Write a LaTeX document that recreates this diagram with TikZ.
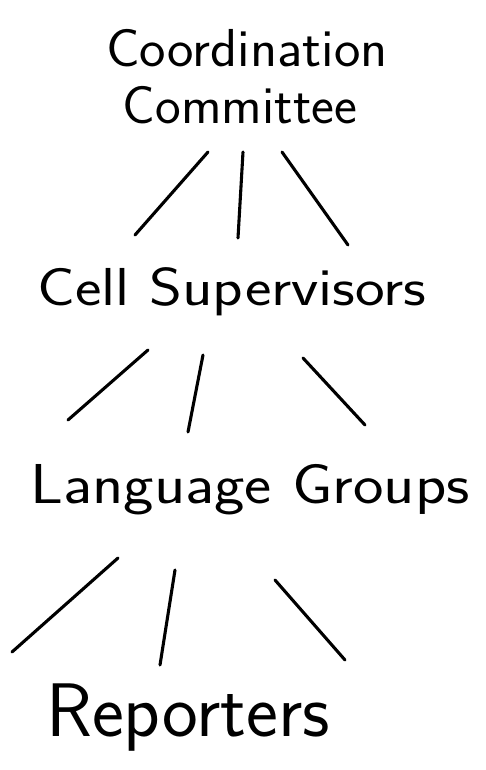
\documentclass[tikz,border=0pt]{standalone}
\usepackage{tikz}
\usepackage{graphicx}
\usetikzlibrary{positioning,calc}

\newcommand{\hand}[3]{\fontsize{#1}{#1}\selectfont\scalebox{#2}[1]{#3}}

\tikzset{
  level/.style={font=\sffamily, inner sep=0pt},
  branch/.style={line width=2.2pt, line cap=round}
}

\begin{document}
\begin{tikzpicture}[x=0.025cm, y=-0.025cm, line cap=round, line join=round]
  \useasboundingbox (0,0) rectangle (486,770);

  % levels
  \node[level] (coord)  at (247,48)  {\hand{38}{1.05}{Coordination}};
  \node[level] (comm)   at (240,105) {\hand{38}{1.02}{Committee}};
  \node[level] (cells)  at (232,292) {\hand{38}{1.18}{Cell Supervisors}};
  \node[level] (groups) at (250,490) {\hand{40}{1.15}{Language Groups}};
  \node[level] (rep)    at (188,718) {\hand{54}{1.0}{Reporters}};

  % branch ends
  \coordinate (c1) at (208,152);  \coordinate (c1e) at (135,235);
  \coordinate (c2) at (243,152);  \coordinate (c2e) at (238,238);
  \coordinate (c3) at (282,152);  \coordinate (c3e) at (348,245);

  \coordinate (s1) at (148,350);  \coordinate (s1e) at (68,420);
  \coordinate (s2) at (203,355);  \coordinate (s2e) at (188,432);
  \coordinate (s3) at (303,358);  \coordinate (s3e) at (365,425);

  \coordinate (g1) at (118,558);  \coordinate (g1e) at (12,652);
  \coordinate (g2) at (175,570);  \coordinate (g2e) at (160,665);
  \coordinate (g3) at (275,580);  \coordinate (g3e) at (345,660);

  % branches
  \foreach \a/\b in {c1/c1e,c2/c2e,c3/c3e,s1/s1e,s2/s2e,s3/s3e,g1/g1e,g2/g2e,g3/g3e}
    \draw[branch] (\a) -- (\b);
\end{tikzpicture}
\end{document}
